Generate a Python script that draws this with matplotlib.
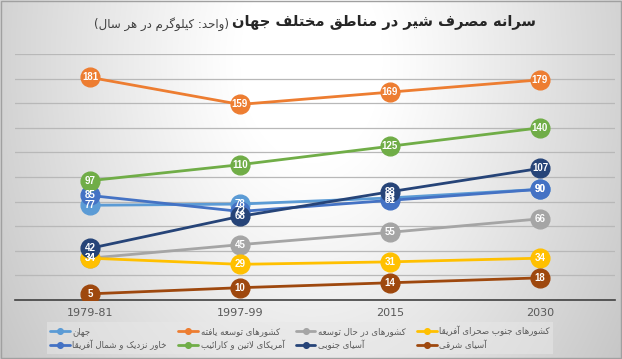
import unicodedata
import numpy as np
import matplotlib
matplotlib.use("Agg")
import matplotlib.pyplot as plt
from matplotlib.patches import Rectangle

# ---------------- data ----------------
categories = ["1979-81", "1997-99", "2015", "2030"]
series_names = [
    "جهان",
    "کشورهای توسعه یافته",
    "کشورهای در حال توسعه",
    "کشورهای جنوب صحرای آفریقا",
    "خاور نزدیک و شمال آفریقا",
    "آمریکای لاتین و کارائیب",
    "آسیای جنوبی",
    "آسیای شرقی",
]
world = [77, 78, 83, 90]
developed = [181, 159, 169, 179]
developing = [34, 45, 55, 66]
subsaharan = [34, 29, 31, 34]
near_east = [85, 72, 81, 90]
latin_america = [97, 110, 125, 140]
south_asia = [42, 68, 88, 107]
east_asia = [5, 10, 14, 18]
series_values = [world, developed, developing, subsaharan,
                 near_east, latin_america, south_asia, east_asia]
colors = ["#5B9BD5", "#ED7D31", "#A5A5A5", "#FFC000",
          "#4472C4", "#70AD47", "#264478", "#9E480E"]
title_main = "سرانه مصرف شیر در مناطق مختلف جهان"
title_unit = "(واحد: کیلوگرم در هر سال)"

# ---------------- minimal Arabic/Persian shaping ----------------
def _build_forms():
    forms = {}
    for cp in list(range(0xFE70, 0xFF00)) + list(range(0xFB50, 0xFE00)):
        d = unicodedata.decomposition(chr(cp))
        if not d:
            continue
        parts = d.split()
        if len(parts) != 2:
            continue
        tag = parts[0].strip("<>")
        if tag in ("isolated", "final", "initial", "medial"):
            base = chr(int(parts[1], 16))
            f = forms.setdefault(base, {})
            if tag not in f:
                f[tag] = chr(cp)
    return forms

FORMS = _build_forms()
LAM_ALEF = {"ا": ("\uFEFB", "\uFEFC"), "آ": ("\uFEF5", "\uFEF6"),
            "أ": ("\uFEF7", "\uFEF8"), "إ": ("\uFEF9", "\uFEFA")}

def shape_rtl(text):
    toks = []
    i = 0
    while i < len(text):
        c = text[i]
        if c == "ل" and i + 1 < len(text) and text[i + 1] in LAM_ALEF:
            iso, fin = LAM_ALEF[text[i + 1]]
            toks.append(("LA", {"isolated": iso, "final": fin}))
            i += 2
            continue
        toks.append((c, FORMS.get(c)))
        i += 1
    out = []
    for k, (c, f) in enumerate(toks):
        if not f:
            out.append(c)
            continue
        prev = toks[k - 1][1] if k > 0 else None
        nxt = toks[k + 1][1] if k + 1 < len(toks) else None
        jp = prev is not None and ("medial" in prev or "initial" in prev) and "final" in f
        jn = nxt is not None and ("medial" in f or "initial" in f) and "final" in nxt
        if jp and jn and "medial" in f:
            out.append(f["medial"])
        elif jp:
            out.append(f.get("final", f.get("isolated", c)))
        elif jn:
            out.append(f.get("initial", f.get("isolated", c)))
        else:
            out.append(f.get("isolated", c))
    vis = "".join(out)[::-1]
    vis = vis.translate(str.maketrans("()", ")("))
    return vis

FA_FONT = ["DejaVu Sans"]

# ---------------- figure ----------------
W, H = 622, 359
fig = plt.figure(figsize=(W / 100, H / 100), dpi=100)

# gradient background
bg = fig.add_axes([0, 0, 1, 1], zorder=-10)
yy, xx = np.mgrid[0:H, 0:W]
r = np.sqrt(((xx - W * 0.5) / (W * 0.52)) ** 2 + ((yy - 60) / (H * 1.3)) ** 2)
g = 1.0 - 0.24 * np.clip(r - 0.22, 0, 1.2) ** 1.1
g = np.clip(g, 0.74, 1.0)
bg.imshow(np.dstack([g, g, g]), aspect="auto", extent=[0, 1, 0, 1], origin="upper")
bg.set_axis_off()
fig.patches.append(Rectangle((0.001, 0.002), 0.997, 0.995, transform=fig.transFigure,
                             fill=False, edgecolor="#a0a0a0", linewidth=1.0))

ax = fig.add_axes([15 / W, (H - 300) / H, 600 / W, 246 / H])
ax.set_facecolor("none")
x = np.arange(len(categories))
for name, vals, col in zip(series_names, series_values, colors):
    ax.plot(x, vals, color=col, linewidth=2.0, marker="o", markersize=13.5,
            markerfacecolor=col, markeredgecolor=col, label=shape_rtl(name),
            solid_capstyle="round", zorder=3)
for vals, col in zip(series_values, colors):
    for xi, v in zip(x, vals):
        ax.text(xi, v, str(v), ha="center", va="center", color="white",
                fontsize=7, fontweight="bold", family="Liberation Sans", zorder=5)

ax.set_xlim(-0.5, 3.5)
ax.set_ylim(0, 200)
ax.set_yticks(np.arange(20, 201, 20))
ax.yaxis.grid(True, color="#b8b8b8", linewidth=0.9)
ax.set_axisbelow(True)
ax.set_xticks(x)
ax.set_xticklabels(categories)
ax.tick_params(axis="x", length=0, pad=6, labelsize=8, labelcolor="#595959")
ax.tick_params(axis="y", length=0, labelleft=False)
for s in ("top", "left", "right"):
    ax.spines[s].set_visible(False)
ax.spines["bottom"].set_color("#404040")
ax.spines["bottom"].set_linewidth(1.2)

# legend (row-major order)
handles, labels = ax.get_legend_handles_labels()
order = [0, 4, 1, 5, 2, 6, 3, 7]
leg = fig.legend([handles[i] for i in order], [labels[i] for i in order],
                 ncol=4, loc="center", bbox_to_anchor=(300 / W, (H - 338) / H),
                 frameon=True, handlelength=2.3, handletextpad=0.3,
                 columnspacing=1.3, labelspacing=0.4, borderpad=0.4,
                 markerscale=0.3, prop={"family": FA_FONT, "size": 6.2})
leg.get_frame().set_facecolor("#e8e8e8")
leg.get_frame().set_alpha(0.5)
leg.get_frame().set_edgecolor("none")
leg.get_frame().set_boxstyle("square", pad=0)
for t in leg.get_texts():
    t.set_color("#595959")
for lh in leg.legend_handles:
    lh.set_linewidth(2.0)

# title (bold part on the right, unit in parentheses on the left)
t1 = fig.text(0, 1 - 23 / H, shape_rtl(title_main), fontsize=10.5, fontweight="bold",
              color="#262626", ha="left", va="center", family=FA_FONT)
t2 = fig.text(0, 1 - 24 / H, shape_rtl(title_unit), fontsize=8.5,
              color="#404040", ha="left", va="center", family=FA_FONT)
fig.canvas.draw()
rend = fig.canvas.get_renderer()
w1 = t1.get_window_extent(rend).width
w2 = t2.get_window_extent(rend).width
gap = 4
start = 315 - (w1 + w2 + gap) / 2
t2.set_x(start / W)
t1.set_x((start + w2 + gap) / W)

fig.savefig("out.png", dpi=100)
